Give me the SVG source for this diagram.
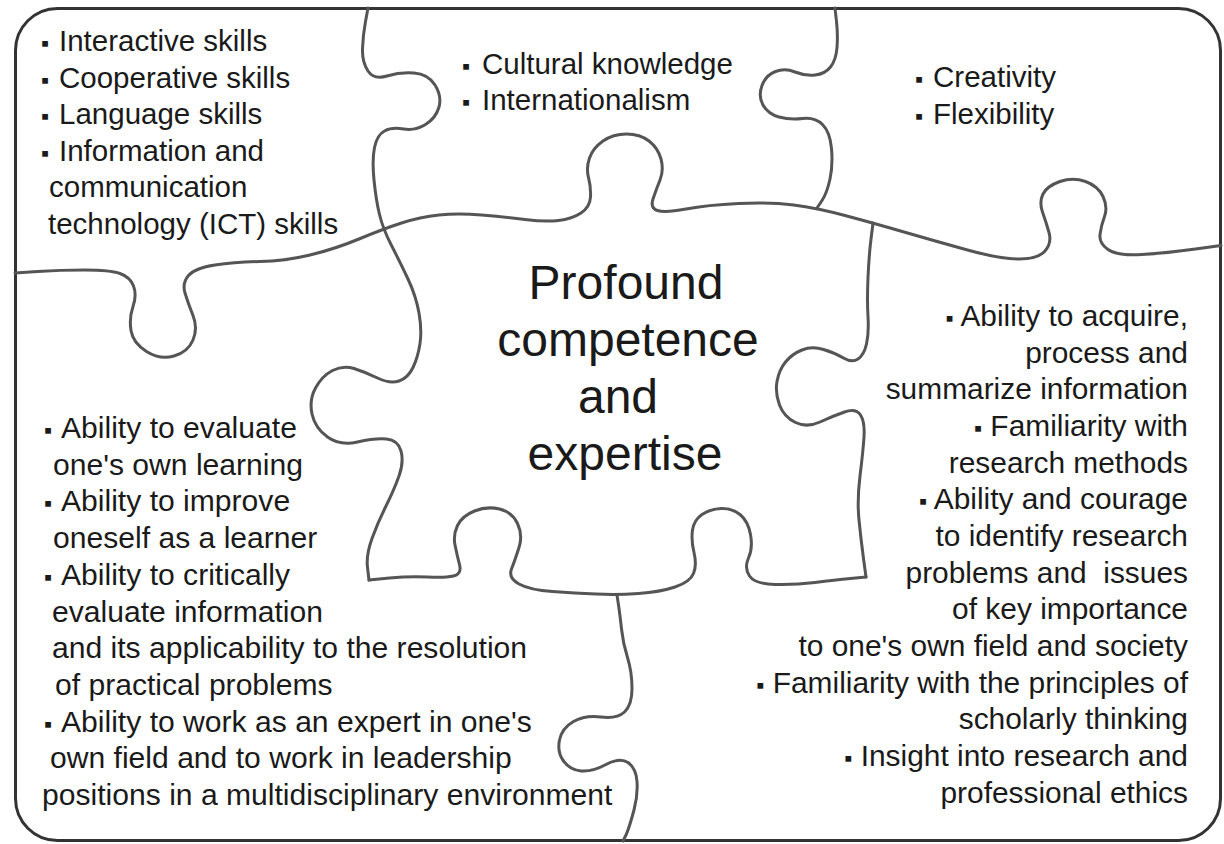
<svg xmlns="http://www.w3.org/2000/svg" width="1224" height="844" viewBox="0 0 1224 844">
<style>
  .ln { fill: none; stroke: #555; stroke-width: 3; stroke-linecap: round; stroke-linejoin: round; }
  .frame { fill: #fff; stroke: #333; stroke-width: 3; }
  text { font-family: "Liberation Sans", Arial, sans-serif; font-size: 29.5px; fill: #1a1a1a; }
  .bl text { font-size: 30.1px; }
  .rt text { font-size: 29.9px; text-anchor: end; }
  .b { font-size: 23px; }
  .big { font-size: 48px; text-anchor: middle; }
</style>
<rect x="0" y="0" width="1224" height="844" fill="#fff"/>
<g id="frame">
  <rect class="frame" x="15.5" y="8.5" width="1205" height="832" rx="42" ry="42"/>
</g>
<g id="connectors">
  <path class="ln" d="M368,8 L365.5,21.5 Q363,35 362.5,48.5 Q362,62 368,71 Q374,80 387,76 Q400,72 414,73 Q428,74 435,85 Q442,96 439,107 Q436,118 425.5,124.5 Q415,131 403.5,129 Q392,127 384.5,131 Q377,135 374.5,147.5 Q372,160 374,180 Q376,200 379.5,214.5 Q383,229 391.5,245.5 Q400,262 408,279 Q416,296 419,313 Q422,330 420,343.5 Q418,357 413,367.5 Q408,378 399,381 Q390,384 377.5,378 Q365,372 354,368.5 Q343,365 332.5,370.5 Q322,376 315.5,388 Q309,400 312,414 Q315,428 327.5,437 Q340,446 357.5,442 Q375,438 386.5,439 Q398,440 401,451 Q404,462 399,476 Q394,490 386,506 Q378,522 372,538.5 Q366,555 367.5,567.5 L369,580"/>
  <path class="ln" d="M369,580 L389.5,578 Q410,576 427.5,577 Q445,578 453.5,576 Q462,574 459.5,564.5 Q457,555 455,545 Q453,535 457.5,525.5 Q462,516 474.5,511 Q487,506 499.5,509 Q512,512 517.5,523.5 Q523,535 519,547.5 Q515,560 511.5,569 Q508,578 519,584 Q530,590 552.5,591.5 Q575,593 596,594 Q617,595 638.5,593.5 Q660,592 675,587 Q690,582 693.5,573.5 Q697,565 694,552.5 Q691,540 692.5,530 Q694,520 702,514.5 Q710,509 721,508.5 Q732,508 740,514.5 Q748,521 750.5,534.5 Q753,548 748.5,558 Q744,568 749.5,576 Q755,584 775,584.5 Q795,585 815,582.5 Q835,580 850.5,578.5 L866,577"/>
  <path class="ln" d="M866,577 L863.5,558.5 Q861,540 859,520 Q857,500 860,476 Q863,452 864,437 Q865,422 860.5,415 Q856,408 844.5,412 Q833,416 820,422 Q807,428 795.5,422.5 Q784,417 779.5,405 Q775,393 777,381.5 Q779,370 785.5,362 Q792,354 802,350 Q812,346 823.5,349.5 Q835,353 843.5,358 Q852,363 858,359 Q864,355 866.5,344 Q869,333 868,316.5 Q867,300 868,277.5 Q869,255 871,239 L873,223"/>
  <path class="ln" d="M15,273 L37.5,271.5 Q60,270 85,270 Q110,270 120,273.5 Q130,277 133.5,286 Q137,295 133,306.5 Q129,318 131,330.5 Q133,343 146.5,351.5 Q160,360 174,356 Q188,352 193,340 Q198,328 193,315.5 Q188,303 185,293 Q182,283 188.5,275.5 Q195,268 215,265 Q235,262 260,261.5 Q285,261 310,255 Q335,249 359,239 Q383,229 401.5,223 Q420,217 439,215 Q458,213 481.5,215 Q505,217 525,219.5 Q545,222 558.5,220.5 Q572,219 581,213 Q590,207 590.5,197 Q591,187 588.5,177.5 Q586,168 589.5,158 Q593,148 603,141 Q613,134 626.5,134 Q640,134 649,141 Q658,148 661,159 Q664,170 660,180 Q656,190 653,199 Q650,208 657.5,210.5 Q665,213 686,209 Q707,205 738.5,203.5 Q770,202 793.5,205 Q817,208 845,215.5 Q873,223 904,232 Q935,241 967.5,250 Q1000,259 1019,259 Q1038,259 1045,251 Q1052,243 1049,232.5 Q1046,222 1042.5,212 Q1039,202 1043,194 Q1047,186 1060,181.5 Q1073,177 1085.5,181.5 Q1098,186 1103,196.5 Q1108,207 1104.5,216.5 Q1101,226 1100,234.5 Q1099,243 1108,249.5 Q1117,256 1142,254.5 Q1167,253 1195.5,249 L1221,245.5"/>
  <path class="ln" d="M835,8 L836.5,21.5 Q838,35 837,47.5 Q836,60 830.5,67 Q825,74 815,75 Q805,76 795,72 Q785,68 775.5,71.5 Q766,75 762,85.5 Q758,96 763,105 Q768,114 779,117 Q790,120 802.5,118.5 Q815,117 822.5,124.5 Q830,132 831.5,148.5 Q833,165 830,179 Q827,193 822,200.5 L817,208"/>
  <path class="ln" d="M617,595 L618.5,605 Q620,615 621.5,629 Q623,643 627.5,657.5 Q632,672 632,688.5 Q632,705 624.5,712 Q617,719 601,717 Q585,715 573.5,721.5 Q562,728 559.5,740 Q557,752 563.5,761 Q570,770 581,771 Q592,772 606,764.5 Q620,757 628,762.5 Q636,768 637,781.5 Q638,795 634,810 Q630,825 626.5,834 L623,841"/>
</g>
<g id="piece-top-left">
  <text y="51"><tspan class="b" x="41">▪</tspan><tspan x="59">Interactive skills</tspan></text>
  <text y="87.5"><tspan class="b" x="41">▪</tspan><tspan x="59">Cooperative skills</tspan></text>
  <text y="124"><tspan class="b" x="41">▪</tspan><tspan x="59">Language skills</tspan></text>
  <text y="160.5"><tspan class="b" x="41">▪</tspan><tspan x="59">Information and</tspan></text>
  <text x="49" y="197">communication</text>
  <text x="48" y="233.5">technology (ICT) skills</text>
</g>
<g id="piece-top-middle">
  <text y="74"><tspan class="b" x="462">▪</tspan><tspan x="482">Cultural knowledge</tspan></text>
  <text y="110"><tspan class="b" x="462">▪</tspan><tspan x="482">Internationalism</tspan></text>
</g>
<g id="piece-top-right">
  <text y="87"><tspan class="b" x="915">▪</tspan><tspan x="933">Creativity</tspan></text>
  <text y="124"><tspan class="b" x="915">▪</tspan><tspan x="933">Flexibility</tspan></text>
</g>
<g id="piece-center">
  <text class="big" x="626" y="299">Profound</text>
  <text class="big" x="628" y="356">competence</text>
  <text class="big" x="618" y="413">and</text>
  <text class="big" x="625" y="470">expertise</text>
</g>
<g id="piece-bottom-left" class="bl">
  <text y="438"><tspan class="b" x="44">▪</tspan><tspan x="61">Ability to evaluate</tspan></text>
  <text x="53" y="474.7">one's own learning</text>
  <text y="511.4"><tspan class="b" x="44">▪</tspan><tspan x="61">Ability to improve</tspan></text>
  <text x="53" y="548.1">oneself as a learner</text>
  <text y="584.8"><tspan class="b" x="44">▪</tspan><tspan x="61">Ability to critically</tspan></text>
  <text x="52" y="621.5">evaluate information</text>
  <text x="52" y="658.2">and its applicability to the resolution</text>
  <text x="55" y="694.9">of practical problems</text>
  <text y="731.6"><tspan class="b" x="44">▪</tspan><tspan x="61">Ability to work as an expert in one's</tspan></text>
  <text x="50" y="768.3">own field and to work in leadership</text>
  <text x="42" y="805">positions in a multidisciplinary environment</text>
</g>
<g id="piece-right" class="rt">
  <text x="1188" y="326"><tspan class="b">▪</tspan> Ability to acquire,</text>
  <text x="1188" y="362.7">process and</text>
  <text x="1188" y="399.3">summarize information</text>
  <text x="1188" y="436"><tspan class="b">▪</tspan> Familiarity with</text>
  <text x="1188" y="472.6">research methods</text>
  <text x="1188" y="509.3"><tspan class="b">▪</tspan> Ability and courage</text>
  <text x="1188" y="545.9">to identify research</text>
  <text x="1188" y="582.6" xml:space="preserve">problems and  issues</text>
  <text x="1188" y="619.2">of key importance</text>
  <text x="1188" y="655.9">to one's own field and society</text>
  <text x="1188" y="692.5"><tspan class="b">▪</tspan> Familiarity with the principles of</text>
  <text x="1188" y="729.2">scholarly thinking</text>
  <text x="1188" y="765.8"><tspan class="b">▪</tspan> Insight into research and</text>
  <text x="1188" y="802.5">professional ethics</text>
</g>
</svg>
